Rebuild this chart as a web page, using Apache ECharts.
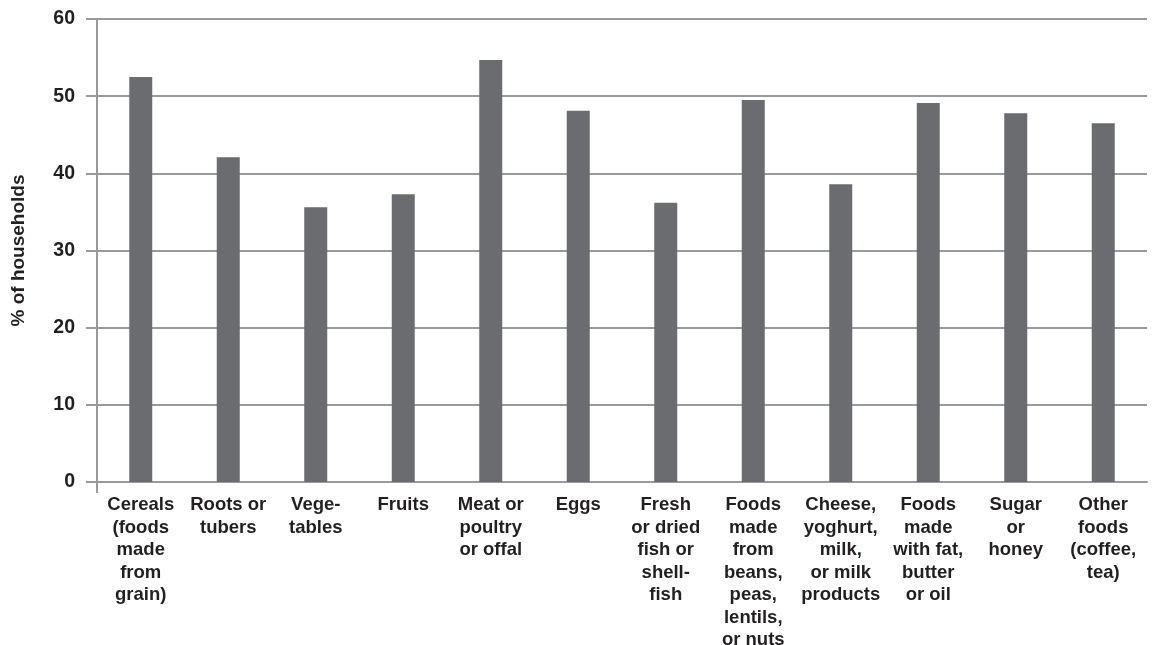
<!DOCTYPE html>
<html>
<head>
<meta charset="utf-8">
<script src="https://cdn.jsdelivr.net/npm/echarts@6/dist/echarts.min.js"></script>
<style>
html,body{margin:0;padding:0;background:#fff;}
#chart{width:1168px;height:645px;}
</style>
</head>
<body>
<div id="chart"></div>
<script>
const categories = [
  'Cereals\n(foods\nmade\nfrom\ngrain)',
  'Roots or\ntubers',
  'Vege-\ntables',
  'Fruits',
  'Meat or\npoultry\nor offal',
  'Eggs',
  'Fresh\nor dried\nfish or\nshell-\nfish',
  'Foods\nmade\nfrom\nbeans,\npeas,\nlentils,\nor nuts',
  'Cheese,\nyoghurt,\nmilk,\nor milk\nproducts',
  'Foods\nmade\nwith fat,\nbutter\nor oil',
  'Sugar\nor\nhoney',
  'Other\nfoods\n(coffee,\ntea)'
];
const values = [52.5, 42.1, 35.6, 37.3, 54.7, 48.1, 36.2, 49.5, 38.6, 49.1, 47.8, 46.5];
const yTicks = { min: 0, max: 60, interval: 10 };
const yTitle = '% of households';

const FONT = '"Liberation Sans", Arial, Helvetica, sans-serif';
const chart = echarts.init(document.getElementById('chart'));
chart.setOption({
  animation: false,
  backgroundColor: '#ffffff',
  grid: { left: 97, right: 21, top: 19, bottom: 163, containLabel: false, outerBoundsMode: 'none' },
  graphic: [{
    type: 'line',
    shape: { x1: 97, y1: 482, x2: 97, y2: 493 },
    style: { stroke: '#999a9c', lineWidth: 2 }
  }],
  xAxis: {
    type: 'category',
    data: categories,
    boundaryGap: true,
    axisLine: { show: true, lineStyle: { color: '#999a9c', width: 2 } },
    axisTick: { show: false },
    axisLabel: {
      interval: 0, margin: 12, color: '#231f20', fontFamily: FONT, fontWeight: 'bold',
      fontSize: 18.5, lineHeight: 22.5, align: 'center', verticalAlign: 'top',
      hideOverlap: false
    }
  },
  yAxis: {
    type: 'value',
    min: yTicks.min, max: yTicks.max, interval: yTicks.interval,
    name: yTitle,
    nameLocation: 'middle',
    nameRotate: 90,
    nameGap: 69,
    nameTextStyle: { color: '#231f20', fontFamily: FONT, fontWeight: 'bold', fontSize: 19 },
    axisLine: { show: true, lineStyle: { color: '#999a9c', width: 2 } },
    axisTick: { show: true, length: 11, lineStyle: { color: '#999a9c', width: 2 } },
    splitLine: { show: true, lineStyle: { color: '#999a9c', width: 2 } },
    axisLabel: { color: '#231f20', fontFamily: FONT, fontWeight: 'bold', fontSize: 19.5, margin: 22 }
  },
  series: [{
    type: 'bar',
    data: values,
    barWidth: 23,
    itemStyle: { color: '#6b6c70' }
  }]
});
</script>
</body>
</html>
